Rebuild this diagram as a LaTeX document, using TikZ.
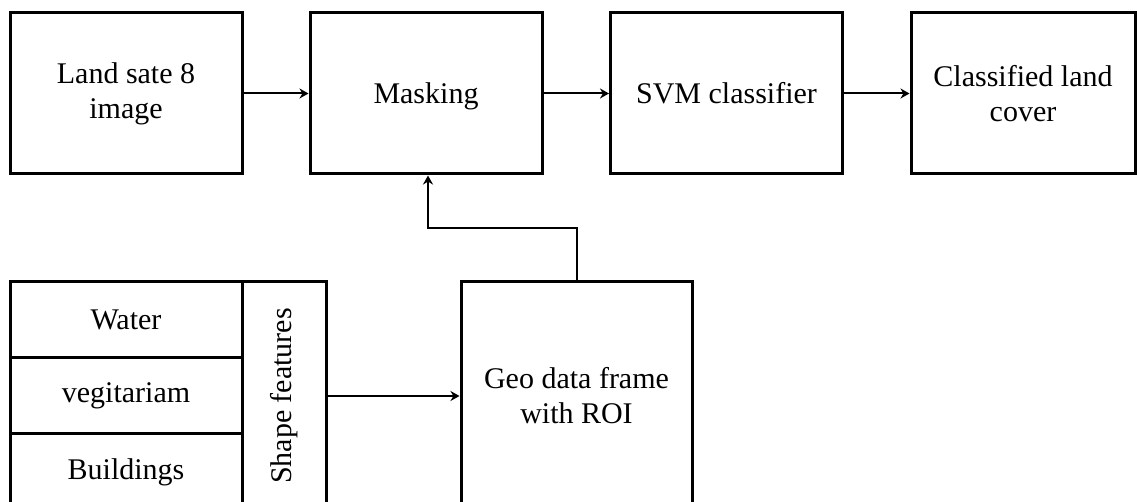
\documentclass[tikz,border=0pt]{standalone}
\usepackage{fontspec}
\setmainfont{Liberation Serif}
\usetikzlibrary{arrows.meta,positioning}

\tikzset{
  block/.style={draw, line width=1.5pt, align=center, inner sep=0pt,
    minimum width=116pt, minimum height=80.5pt},
  rowbox/.style={draw, line width=1.5pt, align=center, inner sep=0pt,
    minimum width=116pt, minimum height=38pt},
  link/.style={->, line width=1pt}
}

\begin{document}
\begin{tikzpicture}[x=0.5pt, y=-0.5pt,
  every node/.style={font=\fontsize{15}{17.5}\selectfont},
  >={Stealth[length=4.5pt,width=5pt]}]
  \useasboundingbox (0,0) rectangle (1137,502);
  \clip (0,0) rectangle (1137,502);
  % top row
  \node[block] (land) at (126,93.5)   {Land sate 8\\image};
  \node[block, text depth=0pt] (mask) at (426,93.5) {Masking};
  \node[block] (svm)  at (726.5,93.5) {SVM classifier};
  \node[block, minimum width=112pt] (cover) at (1023,93.5) {Classified land\\cover};
  % bottom part
  \node[rowbox] (water) at (126,320) {Water};
  \node[rowbox] (veg)   at (126,396) {vegitariam};
  \node[rowbox] (build) at (126,472) {Buildings};
  \node[draw, line width=1.5pt, inner sep=0pt, minimum width=42pt,
    minimum height=114pt] (shape) at (284,396) {\rotatebox{90}{Shape features}};
  \node[block, minimum width=115.5pt, minimum height=114pt] (geo) at (576.5,396)
    {Geo data frame\\with ROI};
  \coordinate (bend) at (500,228);
  % connectors
  \draw[link] (land) -- (mask);
  \draw[link] (mask) -- (svm);
  \draw[link] (svm) -- (cover);
  \draw[link] (shape) -- (geo);
  \draw[link] (geo.north) |- (bend) -| ([xshift=1pt]mask.south);
\end{tikzpicture}
\end{document}
